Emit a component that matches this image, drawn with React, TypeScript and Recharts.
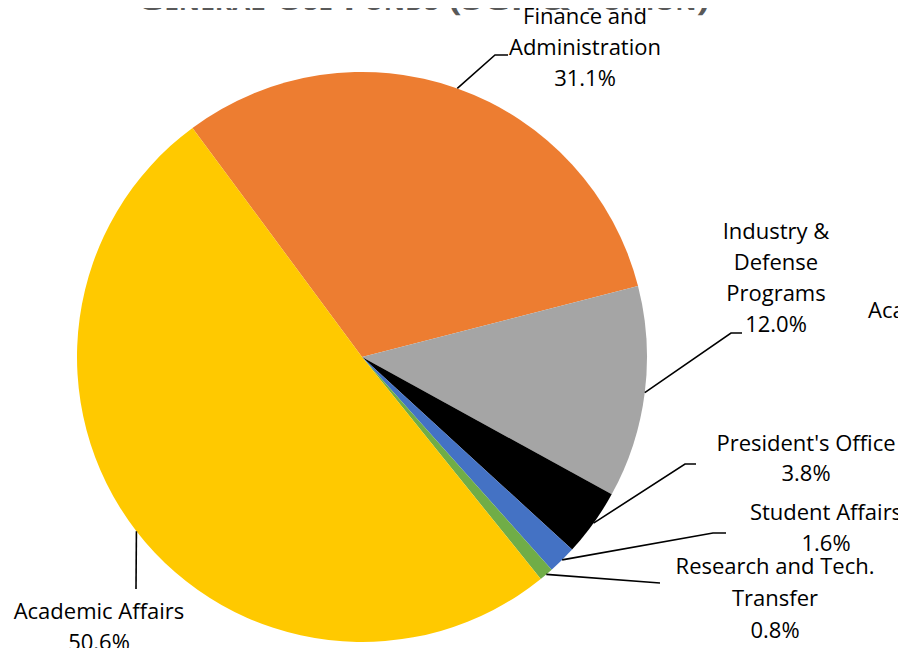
import React from 'react';
import { PieChart, Pie, Cell } from 'recharts';

// budget shares, % of general use funds
const categories = [
  'Finance and Administration',
  'Industry & Defense Programs',
  "President's Office",
  'Student Affairs',
  'Research and Tech. Transfer',
  'Academic Affairs',
];
const shares = [31.1, 12.0, 3.8, 1.6, 0.8, 50.6];
const sliceColors = ['#ED7D31', '#A5A5A5', '#000000', '#4472C4', '#70AD47', '#FFC900'];

// how each label is wrapped in the original
const labelText = [
  ['Finance and', 'Administration'],
  ['Industry &', 'Defense', 'Programs'],
  ["President's Office"],
  ['Student Affairs'],
  ['Research and Tech.', 'Transfer'],
  ['Academic Affairs'],
];

// manual label placement: text centre x, first baseline, line gap, leader elbow points
const labelLayout = [
  { x: 585, y: 24, gap: 31, path: [[495, 55], [508, 55]] },
  { x: 776, y: 239, gap: 31, path: [[731, 333], [742, 333]] },
  { x: 806, y: 451, gap: 30, path: [[685, 464], [696, 464]] },
  { x: 826, y: 520, gap: 31, path: [[713, 533], [726, 533]] },
  { x: 775, y: 574, gap: 32, path: [[660, 583]] },
  { x: 99, y: 619, gap: 31, path: [[136, 589]] },
];

const data = categories.map((name, i) => ({ name, value: shares[i] }));

const RAD = Math.PI / 180;
const FONT = '"Open Sans", "Noto Sans", sans-serif';

const renderLabel = (props: any) => {
  const { cx, cy, midAngle, outerRadius, index } = props;
  const sx = cx + outerRadius * Math.cos(-midAngle * RAD);
  const sy = cy + outerRadius * Math.sin(-midAngle * RAD);
  const lay = labelLayout[index];
  const pts = [[sx, sy], ...lay.path].map((p) => p.join(',')).join(' ');
  const lines = [...labelText[index], `${shares[index].toFixed(1)}%`];
  return (
    <g key={`lbl-${index}`}>
      <polyline points={pts} fill="none" stroke="#000" strokeWidth={1.6} />
      <text x={lay.x} y={lay.y} textAnchor="middle" fontSize={22} fontFamily={FONT} fill="#000">
        {lines.map((l, j) => (
          <tspan key={j} x={lay.x} y={lay.y + j * lay.gap}>
            {l}
          </tspan>
        ))}
      </text>
    </g>
  );
};

export default function App() {
  return (
    <div style={{ position: 'relative', width: 906, height: 656, margin: -8, overflow: 'hidden', background: '#fff' }}>
      <PieChart width={906} height={656} margin={{ top: 0, right: 0, bottom: 0, left: 0 }}>
        <Pie
          data={data}
          dataKey="value"
          nameKey="name"
          cx={362}
          cy={357}
          outerRadius={285}
          startAngle={126.5}
          endAngle={-233.5}
          stroke="none"
          label={renderLabel}
          labelLine={false}
          isAnimationActive={false}
        >
          {data.map((d, i) => (
            <Cell key={d.name} fill={sliceColors[i]} />
          ))}
        </Pie>
      </PieChart>
      <svg width={906} height={656} style={{ position: 'absolute', left: 0, top: 0, pointerEvents: 'none' }}>
        <text
          x={423}
          y={10}
          textAnchor="middle"
          fontSize={32}
          fontWeight="bold"
          fontFamily={FONT}
          fill="#595959"
          style={{ fontVariant: 'small-caps' }}
          textLength={573}
          lengthAdjust="spacingAndGlyphs"
        >
          General Use Funds (SGF &amp; Tuition)
        </text>
        <text x={868} y={318} fontSize={22} fontFamily={FONT} fill="#000">
          Academic Affairs
        </text>
      </svg>
    </div>
  );
}
